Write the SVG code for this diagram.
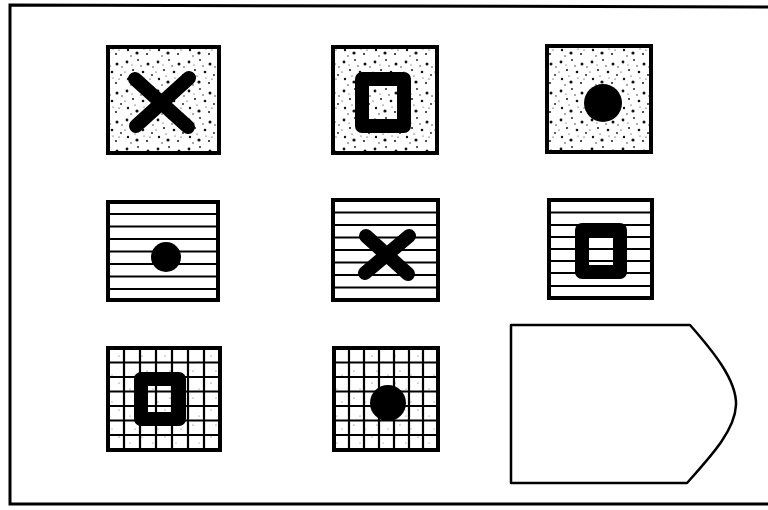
<svg xmlns="http://www.w3.org/2000/svg" width="768" height="510" viewBox="0 0 768 510">
  <defs>
    <pattern id="stipple" patternUnits="userSpaceOnUse" width="31" height="29">
      <rect width="31" height="29" fill="#ffffff"/>
      <g fill="#111">
        <circle cx="3" cy="4" r="1.4"/>
        <circle cx="14" cy="2" r="0.9"/>
        <circle cx="24" cy="6" r="1.5"/>
        <circle cx="9" cy="12" r="1"/>
        <circle cx="19" cy="14" r="1.3"/>
        <circle cx="28" cy="17" r="0.9"/>
        <circle cx="4" cy="21" r="1.2"/>
        <circle cx="13" cy="24" r="1.6"/>
        <circle cx="23" cy="25" r="1"/>
        <circle cx="29" cy="9" r="0.7"/>
        <circle cx="7" cy="27" r="0.7"/>
        <circle cx="17" cy="8" r="0.7"/>
        <circle cx="11" cy="18" r="0.6"/>
        <circle cx="26" cy="21" r="0.6"/>
        <circle cx="1" cy="14" r="0.6"/>
        <circle cx="20" cy="20" r="0.5"/>
        <circle cx="8" cy="7" r="0.5"/>
      </g>
    </pattern>
    <pattern id="speck" patternUnits="userSpaceOnUse" width="23" height="27">
      <g fill="#555">
        <circle cx="4" cy="5" r="0.6"/>
        <circle cx="15" cy="11" r="0.5"/>
        <circle cx="9" cy="20" r="0.6"/>
        <circle cx="20" cy="24" r="0.5"/>
      </g>
    </pattern>
  </defs>
  <style>
    .frame { fill: none; stroke: #000; stroke-width: 3; }
    .tile { stroke: #000; stroke-width: 4; }
    .dotted { fill: url(#stipple); }
    .plain { fill: #fff; }
    .hatch { fill: none; stroke: #000; stroke-width: 2.2; }
    .cross { fill: none; stroke: #000; stroke-width: 14; stroke-linecap: round; }
    .ring { fill: none; stroke: #000; stroke-width: 14; stroke-linejoin: round; }
    .dot { fill: #000; }
    .answer { fill: #fff; stroke: #000; stroke-width: 2.5; stroke-linejoin: round; }
  </style>
  <rect width="768" height="510" fill="#fff"/>
  <path class="frame" d="M770 7 L10 5 L10 504 L770 504"/>

  <g id="tile-1-1">
    <rect class="tile dotted" x="108" y="47" width="111" height="106"/>
    <path class="cross" d="M135 79 L188 127 M189 78 L136 126"/>
  </g>
  <g id="tile-1-2">
    <rect class="tile dotted" x="333" y="47" width="104" height="106"/>
    <rect class="ring" x="362" y="79" width="42" height="47"/>
  </g>
  <g id="tile-1-3">
    <rect class="tile dotted" x="547" y="46" width="104" height="106"/>
    <circle class="dot" cx="603" cy="103" r="19"/>
  </g>

  <g id="tile-2-1">
    <rect class="tile plain" x="108" y="202" width="110" height="98"/>
    <path class="hatch" d="M108 214 H218 M108 226.5 H218 M108 239 H218 M108 251.5 H218 M108 264 H218 M108 276.5 H218 M108 289 H218"/>
    <circle class="dot" cx="166" cy="257" r="15"/>
  </g>
  <g id="tile-2-2">
    <rect class="tile plain" x="333" y="200" width="105" height="100"/>
    <path class="hatch" d="M333 212.5 H438 M333 225 H438 M333 237.5 H438 M333 250 H438 M333 262.5 H438 M333 275 H438 M333 287.5 H438"/>
    <path class="cross" d="M366 236 L408 274 M409 236 L365 273"/>
  </g>
  <g id="tile-2-3">
    <rect class="tile plain" x="549" y="200" width="103" height="98"/>
    <path class="hatch" d="M549 212.5 H652 M549 225 H652 M549 237 H652 M549 249 H652 M549 261 H652 M549 273 H652 M549 286 H652"/>
    <rect class="ring" x="582" y="230" width="38" height="42"/>
  </g>

  <g id="tile-3-1">
    <rect class="tile plain" x="108" y="348" width="112" height="102"/>
    <rect x="108" y="348" width="112" height="102" fill="url(#speck)"/>
    <path class="hatch" d="M124 348 V450 M140 348 V450 M156 348 V450 M172 348 V450 M188 348 V450 M204 348 V450 M108 362.5 H220 M108 377 H220 M108 391.5 H220 M108 406 H220 M108 420.5 H220 M108 435 H220"/>
    <rect class="ring" x="141" y="379" width="38" height="40"/>
  </g>
  <g id="tile-3-2">
    <rect class="tile plain" x="334" y="348" width="104" height="102"/>
    <rect x="334" y="348" width="104" height="102" fill="url(#speck)"/>
    <path class="hatch" d="M349 348 V450 M364 348 V450 M379 348 V450 M394 348 V450 M409 348 V450 M423 348 V450 M334 362.5 H438 M334 377 H438 M334 391.5 H438 M334 406 H438 M334 420.5 H438 M334 435 H438"/>
    <circle class="dot" cx="388" cy="403" r="18"/>
  </g>

  <g id="answer">
    <path class="answer" d="M511 325 L690 325 C712 350 737 380 736 405 C735 430 712 455 687 483 L511 483 Z"/>
  </g>
</svg>
